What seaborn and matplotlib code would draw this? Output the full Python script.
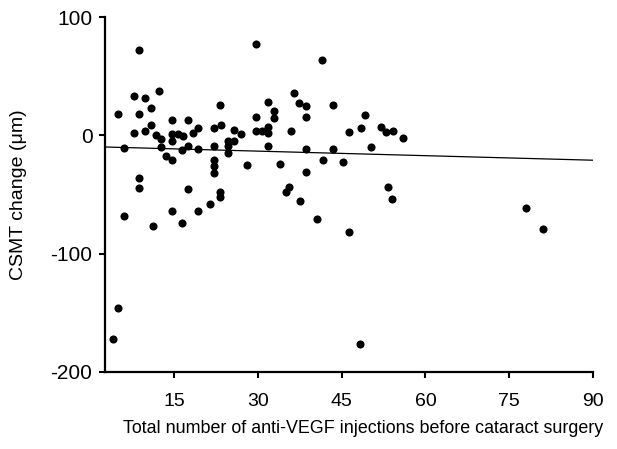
import numpy as np
import pandas as pd
import matplotlib
matplotlib.use("Agg")
import matplotlib.pyplot as plt
import seaborn as sns

sns.set_theme(style="white")
plt.rcParams['font.family'] = ['Liberation Sans', 'DejaVu Sans']
plt.rcParams['axes.unicode_minus'] = False

# injections (x) vs CSMT change (y)
injections = [5.0, 6.0, 8.7, 7.8, 8.7, 7.8, 9.7, 9.7, 10.8, 10.8,
              12.3, 11.8, 12.6, 12.6, 13.6, 14.6, 8.7, 8.7, 14.6, 14.6,
              14.6, 15.7, 16.6, 16.4, 17.5, 17.5, 18.3, 19.3, 19.3, 17.5,
              22.2, 22.2, 22.2, 22.2, 22.2, 23.2, 23.4, 23.2, 23.2, 24.7,
              24.7, 24.7, 25.8, 25.8, 26.9, 28.0, 29.7, 29.7, 29.7, 30.7,
              31.8, 31.8, 31.8, 31.8, 32.8, 32.8, 34.0, 35.1, 35.6, 35.9,
              6.0, 11.2, 14.6, 16.4, 19.3, 21.4, 5.0, 4.0, 41.4, 36.5,
              37.3, 38.6, 43.5, 38.6, 49.2, 46.3, 48.4, 52.1, 52.9, 54.2,
              56.0, 38.6, 43.5, 50.3, 41.7, 45.3, 38.6, 37.5, 53.3, 54.0,
              40.5, 46.3, 48.2, 78.0, 81.1]
csmt_change = [18.0, -11.0, 72.1, 33.0, 18.0, 2.2, 31.8, 3.4, 23.1, 8.5,
               37.7, 0.3, -3.4, -9.9, -17.2, -20.9, -35.8, -44.3, 13.2, 1.1,
               -5.1, 1.1, -0.3, -12.4, 13.2, -8.8, 2.2, 5.9, -11.3, -45.6,
               5.9, -8.8, -20.9, -26.0, -32.1, 25.4, 9.0, -48.2, -52.4, -5.1,
               -8.8, -15.0, -5.1, 4.7, 1.1, -25.1, 77.2, 15.5, 3.4, 3.4,
               28.1, 7.0, 2.2, -8.8, 20.5, 14.4, -24.0, -47.7, -43.4, 3.6,
               -68.0, -76.4, -64.2, -74.1, -64.2, -58.1, -146.2, -172.2, 63.7, 35.5,
               27.1, 24.5, 25.6, 15.7, 17.2, 2.5, 5.9, 7.3, 2.4, 3.6,
               -2.7, -11.3, -11.3, -10.1, -21.1, -22.6, -31.0, -55.5, -43.7, -53.8,
               -71.0, -81.5, -176.7, -61.5, -79.5]

# fitted regression line as drawn in the figure
fit_intercept = -9.55
fit_slope = -0.128

x_ticks = [15, 30, 45, 60, 75, 90]
y_ticks = [-200, -100, 0, 100]
x_range = (2.6, 90)
y_range = (-200, 100)

df = pd.DataFrame({'inj': injections, 'csmt': csmt_change})

fig = plt.figure(figsize=(6.17, 4.49), dpi=100, facecolor='white')
ax = fig.add_axes([0.170, 0.172, 0.791, 0.790])

sns.scatterplot(data=df, x='inj', y='csmt', color='black', s=34,
                linewidth=0, ax=ax, zorder=3)

line_x = np.array(x_range)
line_y = fit_intercept + fit_slope * line_x
sns.lineplot(x=line_x, y=line_y, color='black', linewidth=0.9, ax=ax)

ax.set_xlim(*x_range)
ax.set_ylim(*y_range)
ax.set_xticks(x_ticks)
ax.set_yticks(y_ticks)
ax.tick_params(axis='both', which='both', direction='out', length=4, width=1.5,
               color='black', labelcolor='black', bottom=True, left=True)
ax.tick_params(axis='x', pad=11, labelsize=14)
ax.tick_params(axis='y', pad=5, labelsize=15)

ax.set_xlabel('Total number of anti-VEGF injections before cataract surgery',
              fontsize=12.9, color='black')
ax.set_ylabel('CSMT change (μm)', fontsize=14, color='black')
ax.xaxis.set_label_coords(0.53, -0.135)
ax.yaxis.set_label_coords(-0.16, 0.5)

sns.despine(ax=ax)
for side in ['left', 'bottom']:
    ax.spines[side].set_color('black')
    ax.spines[side].set_linewidth(1.6)
ax.grid(False)

fig.savefig('out.png', dpi=100, facecolor='white')
